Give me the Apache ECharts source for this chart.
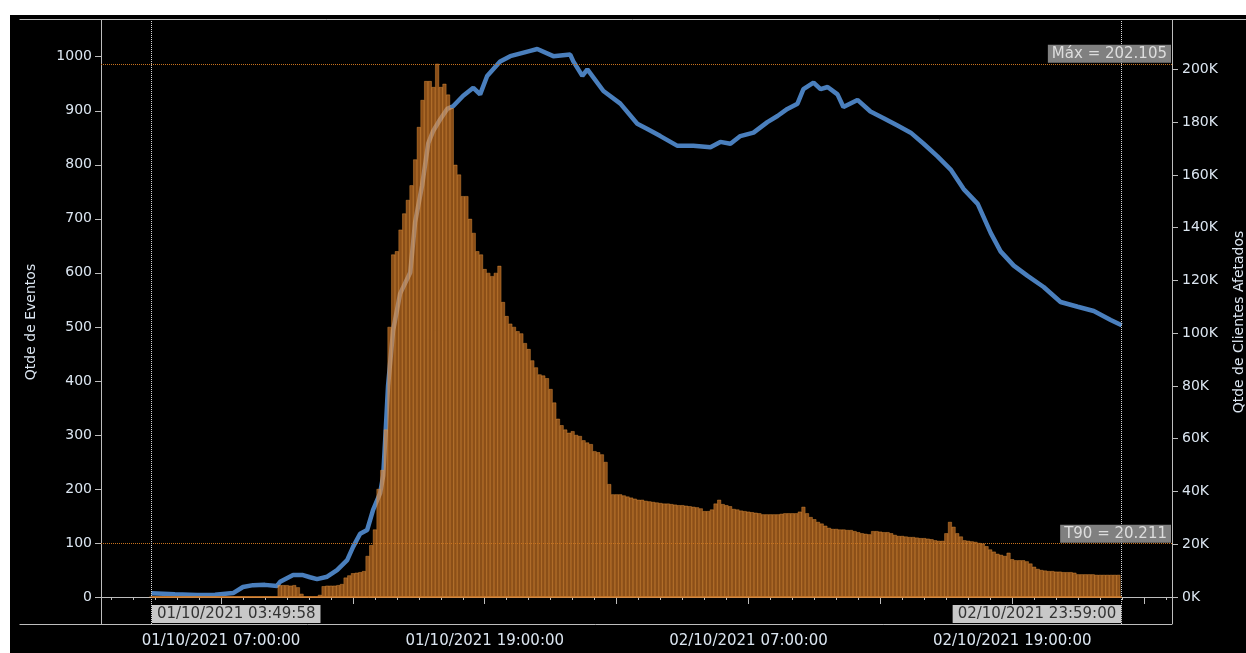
<!DOCTYPE html>
<html>
<head>
<meta charset="utf-8">
<script src="https://cdn.jsdelivr.net/npm/echarts@6/dist/echarts.min.js"></script>
<style>
  html, body { margin: 0; padding: 0; background: #ffffff; overflow: hidden; }
  #chart { position: absolute; left: 10px; top: 15px; width: 1236px; height: 638px; }
</style>
</head>
<body>
<div id="chart"></div>
<script>
// hours counted from 01/10/2021 00:00
const startLabel = "01/10/2021 03:49:58";
const endLabel = "02/10/2021 23:59:00";
const startHour = 3 + 49 / 60 + 58 / 3600;
const endHour = 47 + 59 / 60;

// events per 10 minutes, first bucket at 01/10 03:50
const barFirstHour = 3 + 50 / 60;
const eventValues = [
  0,
  0, 0, 0, 0, 0, 0,
  0, 0, 0, 0, 0, 0,
  0, 0, 0, 0, 0, 0,
  0, 0, 0, 0, 0, 0,
  0, 0, 0, 0, 0, 0,
  0, 0, 0, 0, 22, 22,
  22, 21, 22, 18, 6, 0,
  0, 0, 0, 4, 20, 21,
  21, 21, 22, 24, 36, 40,
  44, 45, 46, 48, 76, 96,
  125, 200, 235, 310, 500, 634,
  640, 680, 710, 735, 762, 810,
  870, 920, 955, 955, 944, 987,
  944, 950, 930, 905, 800, 782,
  742, 742, 700, 674, 640, 634,
  607, 600, 594, 600, 613, 546,
  520, 506, 500, 492, 488, 470,
  459, 438, 425, 412, 410, 405,
  385, 360, 330, 318, 310, 304,
  307, 300, 298, 290, 286, 283,
  270, 268, 264, 250, 209, 190,
  190, 190, 188, 186, 184, 182,
  180, 180, 178, 177, 176, 175,
  174, 173, 173, 172, 171, 170,
  170, 169, 168, 167, 166, 164,
  159, 159, 162, 173, 180, 172,
  170, 168, 163, 162, 160, 159,
  158, 157, 156, 155, 153, 153,
  153, 153, 153, 154, 155, 155,
  155, 155, 158, 167, 155, 148,
  144, 139, 136, 132, 128, 126,
  126, 125, 125, 124, 124, 122,
  120, 118, 117, 116, 122, 122,
  121, 120, 120, 118, 115, 113,
  113, 112, 111, 111, 110, 109,
  109, 108, 107, 105, 104, 104,
  118, 139, 130, 118, 112, 105,
  104, 103, 102, 100, 99, 94,
  88, 84, 80, 78, 76, 82,
  70, 68, 68, 68, 66, 62,
  56, 52, 50, 49, 48, 48,
  47, 47, 46, 46, 46, 45,
  42, 42, 42, 42, 42, 41,
  41, 41, 41, 41, 41, 41
];

// affected clients
const clientHours = [
  3.83, 4.9, 5.91, 6.73, 7.55, 8.0, 8.46, 9.0, 9.55, 9.69,
  10.28, 10.73, 11.05, 11.37, 11.83, 12.28, 12.74, 13.01, 13.33, 13.65,
  13.92, 14.24, 14.38, 14.47, 14.6, 14.83, 15.15, 15.61, 15.83, 16.15,
  16.43, 16.65, 16.97, 17.29, 17.56, 18.02, 18.48, 18.79, 19.11, 19.7,
  20.16, 21.07, 21.39, 22.12, 22.89, 23.03, 23.44, 23.67, 24.4, 25.17,
  25.94, 26.4, 26.99, 27.77, 28.49, 29.27, 29.72, 30.18, 30.63, 31.23,
  31.86, 32.32, 32.77, 33.23, 33.5, 33.96, 34.28, 34.6, 35.05, 35.32,
  35.96, 36.55, 37.15, 37.78, 38.38, 38.97, 39.6, 40.2, 40.79, 41.43,
  42.02, 42.47, 43.07, 43.7, 44.43, 45.2, 45.98, 46.71, 47.48, 47.98
];
const clientValues = [
  1400, 1000, 800, 900, 1500, 3800, 4500, 4600, 4200, 5800,
  8300, 8300, 7500, 6800, 7700, 10200, 14000, 19000, 24000, 25400,
  33000, 39400, 46000, 59500, 80000, 101000, 115000, 123000, 142000, 156000,
  172000, 176600, 181000, 185000, 186000, 190000, 193000, 190500, 197500, 203000,
  205000, 207000, 207700, 205000, 205600, 203000, 197500, 200000, 191800, 187000,
  179400, 177400, 174700, 171000, 171000, 170500, 172500, 171800, 174700, 176000,
  180000, 182300, 185000, 187000, 192500, 195000, 192500, 193300, 190500, 185700,
  188400, 184000, 181500, 178700, 176000, 171800, 167000, 162000, 154600, 149000,
  138000, 131000, 125600, 121700, 117500, 111800, 110000, 108400, 105000, 103000
];

const maxClients = 202105;
const t90Clients = 20211;

const labelHours = [7, 19, 31, 43];
const majorTickHours = [7, 13, 19, 25, 31, 37, 43, 49];
const eventTicks = [0, 100, 200, 300, 400, 500, 600, 700, 800, 900, 1000];
const clientTicks = [0, 20000, 40000, 60000, 80000, 100000, 120000, 140000, 160000, 180000, 200000];

const hourTicks = [];
for (let h = 2; h <= 50; h++) hourTicks.push(h);

const xMin = 1.54, xMax = 50.27;
const textColor = "#dbe5f0";
const axisColor = "#bdbdbd";
const font = "DejaVu Sans";

const fmtHour = (h) => {
  const day = Math.floor(h / 24) + 1;
  const hh = h % 24;
  return String(day).padStart(2, "0") + "/10/2021 " + String(hh).padStart(2, "0") + ":00:00";
};
const fmtThousands = (v) => (v / 1000).toFixed(3);

const barData = eventValues.map((v, i) => [barFirstHour + i / 6, v]);
const lineData = clientHours.map((h, i) => [h, clientValues[i]]);

var chartDom = document.getElementById("chart");
var myChart = echarts.init(chartDom, null, { renderer: "canvas" });

const option = {
  backgroundColor: "#000000",
  animation: false,
  textStyle: { fontFamily: font },
  grid: { left: 91, right: 74, top: 5, bottom: 29, outerBoundsMode: "none", containLabel: false },
  graphic: [
    { type: "line", shape: { x1: 9.5, y1: 4.5, x2: 1236, y2: 4.5 }, style: { stroke: axisColor, lineWidth: 1 }, silent: true },
    { type: "line", shape: { x1: 9.5, y1: 609.5, x2: 1162, y2: 609.5 }, style: { stroke: axisColor, lineWidth: 1 }, silent: true },
  ],
  xAxis: [
    {
      type: "value",
      min: xMin,
      max: xMax,
      position: "bottom",
      splitLine: { show: false },
      axisLine: { show: true, lineStyle: { color: axisColor } },
      axisTick: { show: true, length: 3, customValues: hourTicks, lineStyle: { color: axisColor } },
      axisLabel: {
        customValues: labelHours,
        formatter: (v) => fmtHour(Math.round(v)),
        color: textColor,
        fontSize: 15,
        fontFamily: font,
        margin: 10,
      },
    },
    {
      type: "value",
      min: xMin,
      max: xMax,
      position: "bottom",
      splitLine: { show: false },
      axisLine: { show: false },
      axisTick: { show: true, length: 7, customValues: majorTickHours, lineStyle: { color: axisColor } },
      axisLabel: { show: false },
    },
  ],
  yAxis: [
    {
      type: "value",
      min: -50,
      max: 1068,
      name: "Qtde de Eventos",
      nameLocation: "middle",
      nameGap: 63,
      nameRotate: 90,
      nameTextStyle: { color: textColor, fontSize: 14, fontFamily: font },
      splitLine: { show: false },
      axisLine: { show: true, lineStyle: { color: axisColor } },
      axisTick: { show: true, length: 6, customValues: eventTicks, lineStyle: { color: axisColor } },
      axisLabel: {
        customValues: eventTicks,
        formatter: (v) => String(Math.round(v)),
        color: textColor,
        fontSize: 14,
        fontFamily: font,
        margin: 9,
      },
    },
    {
      type: "value",
      min: -10230,
      max: 218700,
      position: "right",
      name: "Qtde de Clientes Afetados",
      nameLocation: "middle",
      nameGap: 60,
      nameRotate: 90,
      nameTextStyle: { color: textColor, fontSize: 14, fontFamily: font },
      splitLine: { show: false },
      axisLine: { show: true, lineStyle: { color: axisColor } },
      axisTick: { show: true, length: 6, customValues: clientTicks, lineStyle: { color: axisColor } },
      axisLabel: {
        customValues: clientTicks,
        formatter: (v) => Math.round(v / 1000) + "K",
        color: textColor,
        fontSize: 14,
        fontFamily: font,
        margin: 10,
      },
    },
  ],
  series: [
    {
      name: "Qtde de Clientes Afetados",
      type: "line",
      xAxisIndex: 0,
      yAxisIndex: 1,
      z: 2,
      data: lineData,
      showSymbol: false,
      lineStyle: { color: "#4a7fbd", width: 4.5 },
      markLine: {
        silent: true,
        symbol: ["none", "none"],
        lineStyle: { color: "#c8721e", type: "dotted", width: 1 },
        label: {
          position: "insideEndTop",
          distance: 1,
          color: "#dddddd",
          backgroundColor: "rgba(150,150,150,0.85)",
          padding: [2, 4, 1, 4],
          fontSize: 15,
          fontFamily: font,
        },
        data: [
          { yAxis: maxClients, label: { formatter: "Máx = " + fmtThousands(maxClients) } },
          { yAxis: t90Clients, label: { formatter: "T90 = " + fmtThousands(t90Clients) } },
        ],
      },
    },
    {
      name: "Qtde de Eventos",
      type: "bar",
      xAxisIndex: 0,
      yAxisIndex: 0,
      z: 3,
      data: barData,
      barWidth: 4,
      itemStyle: {
        color: "rgba(232,132,40,0.6)",
        borderColor: "rgba(255,165,70,0.6)",
        borderWidth: 0.6,
      },
      markLine: {
        silent: true,
        symbol: ["none", "none"],
        label: { show: false },
        data: [
          { xAxis: startHour, lineStyle: { color: "#d8d8d8", type: "dotted", width: 1 } },
          { xAxis: endHour, lineStyle: { color: "#d8d8d8", type: "dotted", width: 1 } },
          [
            { coord: [startHour, 0], lineStyle: { color: "#d07a26", type: "solid", width: 1.5 } },
            { coord: [endHour, 0] },
          ],
        ],
      },
      markPoint: {
        silent: true,
        symbol: "circle",
        symbolSize: 1,
        itemStyle: { color: "rgba(0,0,0,0)" },
        label: {
          show: true,
          color: "#333333",
          backgroundColor: "#c8c8c8",
          padding: [2, 5, 1, 5],
          fontSize: 15,
          fontFamily: font,
          distance: 0,
          offset: [0, -10],
        },
        data: [
          { coord: [startHour, -50], label: { position: "right", formatter: startLabel } },
          { coord: [endHour, -50], label: { position: "left", formatter: endLabel } },
        ],
      },
    },
  ],
};

option && myChart.setOption(option);
</script>
</body>
</html>
